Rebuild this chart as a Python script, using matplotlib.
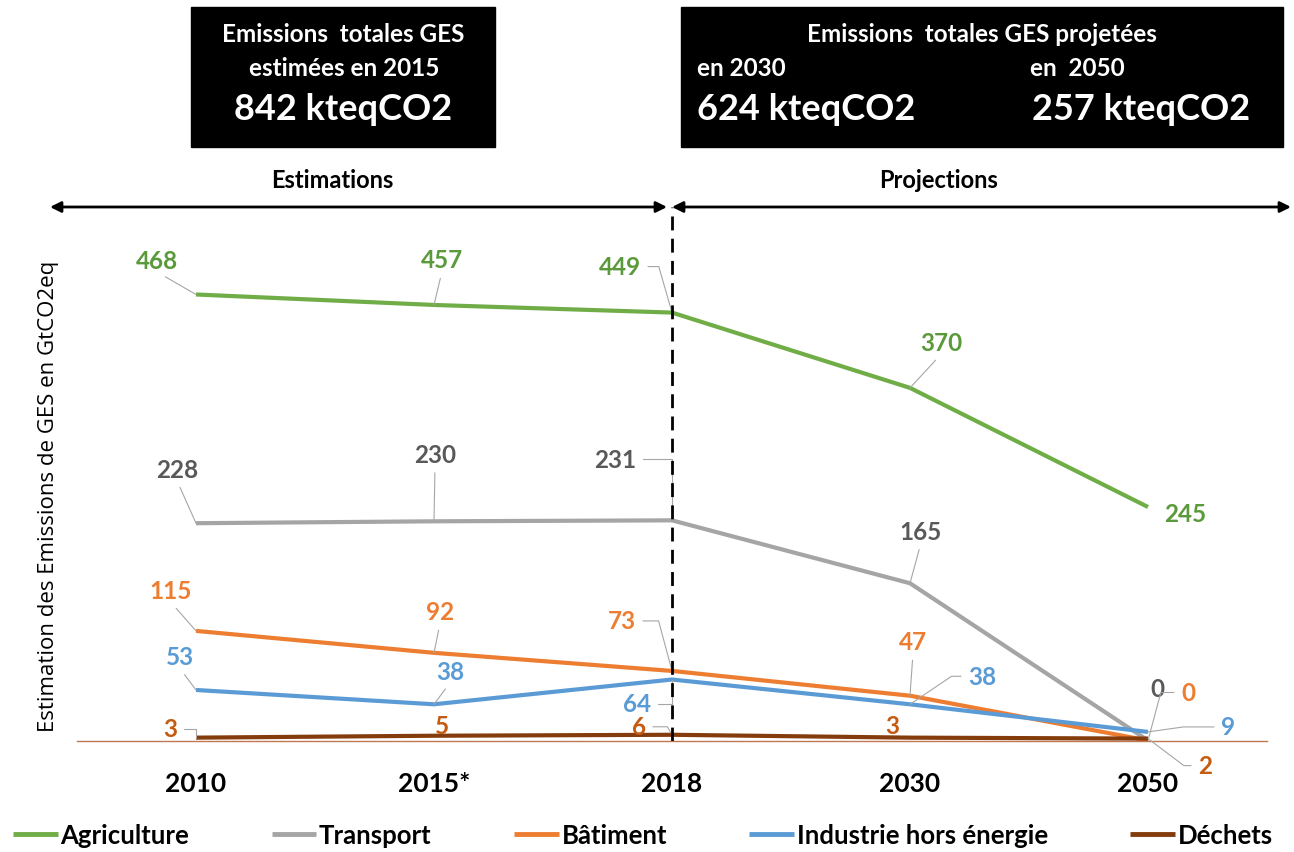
import matplotlib.pyplot as plt
from matplotlib.patches import Rectangle

#%% --- Data ---

years = ["2010", "2015*", "2018", "2030", "2050"]
agriculture = [468, 457, 449, 370, 245]
transport = [228, 230, 231, 165, 0]
batiment = [115, 92, 73, 47, 0]
industrie = [53, 38, 64, 38, 9]
dechets = [3, 5, 6, 3, 2]

series_names = ["Agriculture", "Transport", "Bâtiment",
                "Industrie hors énergie", "Déchets"]
series_values = [agriculture, transport, batiment, industrie, dechets]

#%% --- Styles ---

line_colors = ["#70AD47", "#A5A5A5", "#ED7D31", "#5B9BD5", "#843C0C"]
label_colors = ["#5B9A3B", "#595959", "#ED7D31", "#5B9BD5", "#C55A11"]
leader_color = "#A6A6A6"

# label offsets in pixels (dx, dy) and leader style
# None = no leader, ("line", relpos), ("angle", relpos, angleB)
label_layout = [
    [(-39, 34, ("line", (0.5, 0))), (8, 45, ("line", (0.5, 0))),
     (-52, 46, ("angle", (1, 0.5), 106)), (31, 45, ("line", (0.5, 0))),
     (37, -6, None)],
    [(-19, 54, ("line", (0.5, 0))), (1, 67, ("line", (0.5, 0))),
     (-57, 61, ("angle", (1, 0.5), 90)), (11, 52, ("line", (0.5, 0))),
     (9, 52, None)],
    [(-25, 40, ("line", (0.5, 0))), (6, 41, ("line", (0.5, 0))),
     (-50, 50, ("angle", (1, 0.5), 105)), (3, 54, ("line", (0.5, 0))),
     (40, 48, ("angle", (0, 0.5), 75))],
    [(-16, 33, ("line", (0.5, 0))), (16, 33, ("line", (0.5, 0))),
     (-35, -24, ("angle", (1, 0.5), 90)), (72, 28, ("angle", (0, 0.5), 34)),
     (80, 5, ("angle", (0, 0.5), 8))],
    [(-26, 9, ("angle", (1, 0.5), 90)), (8, 10, None),
     (-33, 8, ("angle", (1, 0.5), 120)), (-18, 12, None),
     (57, -27, ("angle", (0, 0.5), 143))],
]

bold_font = ["Lato", "DejaVu Sans"]
plt.rcParams["font.family"] = bold_font

W, H = 1294, 853


def fx(x):
    return x / W


def fy(y):
    return 1 - y / H


#%% --- Plot ---

fig = plt.figure(figsize=(W / 100, H / 100), dpi=100)
ax = fig.add_axes([fx(77), fy(741.5), 1190 / W, 533.7 / H])

x = list(range(len(years)))
for name, vals, lc, tc, layout in zip(series_names, series_values,
                                      line_colors, label_colors,
                                      label_layout):
    ax.plot(x, vals, color=lc, lw=3, label=name, solid_capstyle="butt",
            zorder=3)
    for xi, v, (dx, dy, leader) in zip(x, vals, layout):
        kw = {}
        if leader is not None:
            props = dict(arrowstyle="-", color=leader_color, lw=0.8,
                         shrinkA=3, shrinkB=0, relpos=leader[1])
            if leader[0] == "angle":
                props["connectionstyle"] = "angle,angleA=0,angleB={},rad=0".format(leader[2])
            kw["arrowprops"] = props
        ax.annotate(str(v), xy=(xi, v), xytext=(dx, dy),
                    textcoords="offset pixels", ha="center", va="center",
                    fontsize=17.5, fontweight="bold", color=tc, **kw)

ax.axvline(2, color="black", lw=2, ls=(0, (5, 3)), zorder=6)

ax.set_xlim(-0.5, 4.5)
ax.set_ylim(0, 560)
ax.set_xticks(x)
ax.set_xticklabels(years, fontsize=19, fontweight="bold")
ax.tick_params(axis="x", length=0, pad=22)
ax.set_yticks([])
for side in ["left", "right", "top"]:
    ax.spines[side].set_visible(False)
ax.spines["bottom"].set_color("#C07850")
ax.spines["bottom"].set_linewidth(1)

fig.text(fx(49), fy(496), "Estimation des Emissions de GES en GtCO2eq",
         rotation=90, ha="center", va="center", fontsize=16,
         family=["Open Sans", "DejaVu Sans"])

# --- header boxes ---
fig.add_artist(Rectangle((fx(191), fy(148)), (495 - 191) / W, 140 / H,
                         transform=fig.transFigure, color="black"))
fig.add_artist(Rectangle((fx(681), fy(148)), (1283 - 681) / W, 140 / H,
                         transform=fig.transFigure, color="black"))

fig.text(fx(343), fy(35), "Emissions  totales GES", ha="center",
         va="center", color="white", fontsize=17.5, fontweight="bold")
fig.text(fx(344), fy(68), "estimées en 2015", ha="center",
         va="center", color="white", fontsize=17.5, fontweight="bold")
fig.text(fx(343), fy(110), "842 kteqCO2", ha="center",
         va="center", color="white", fontsize=26, fontweight="bold")

fig.text(fx(982), fy(35), "Emissions  totales GES projetées", ha="center",
         va="center", color="white", fontsize=17.5, fontweight="bold")
fig.text(fx(697), fy(68), "en 2030", ha="left",
         va="center", color="white", fontsize=17.5, fontweight="bold")
fig.text(fx(1030), fy(68), "en  2050", ha="left",
         va="center", color="white", fontsize=17.5, fontweight="bold")
fig.text(fx(697), fy(110), "624 kteqCO2", ha="left",
         va="center", color="white", fontsize=26, fontweight="bold")
fig.text(fx(1032), fy(110), "257 kteqCO2", ha="left",
         va="center", color="white", fontsize=26, fontweight="bold")

# --- period arrows ---
fig.text(fx(332), fy(180), "Estimations", ha="center", va="center",
         fontsize=17, fontweight="bold")
fig.text(fx(939), fy(180), "Projections", ha="center", va="center",
         fontsize=17, fontweight="bold")
for x0, x1 in [(50, 667), (672, 1291)]:
    ax.annotate("", xy=(fx(x1), fy(208)), xytext=(fx(x0), fy(208)),
                xycoords="figure fraction",
                arrowprops=dict(arrowstyle="<|-|>", color="black", lw=2,
                                mutation_scale=16, shrinkA=0, shrinkB=0))

# --- legend ---
leg = fig.legend(loc="center left", bbox_to_anchor=(fx(13), fy(836)), ncol=5,
                 frameon=False, prop=dict(weight="bold", size=18.5),
                 handlelength=1.75, handletextpad=0.1, columnspacing=3.2,
                 borderpad=0, borderaxespad=0)
for line in leg.get_lines():
    line.set_linewidth(3.5)

fig.savefig("out.png", dpi=100)
